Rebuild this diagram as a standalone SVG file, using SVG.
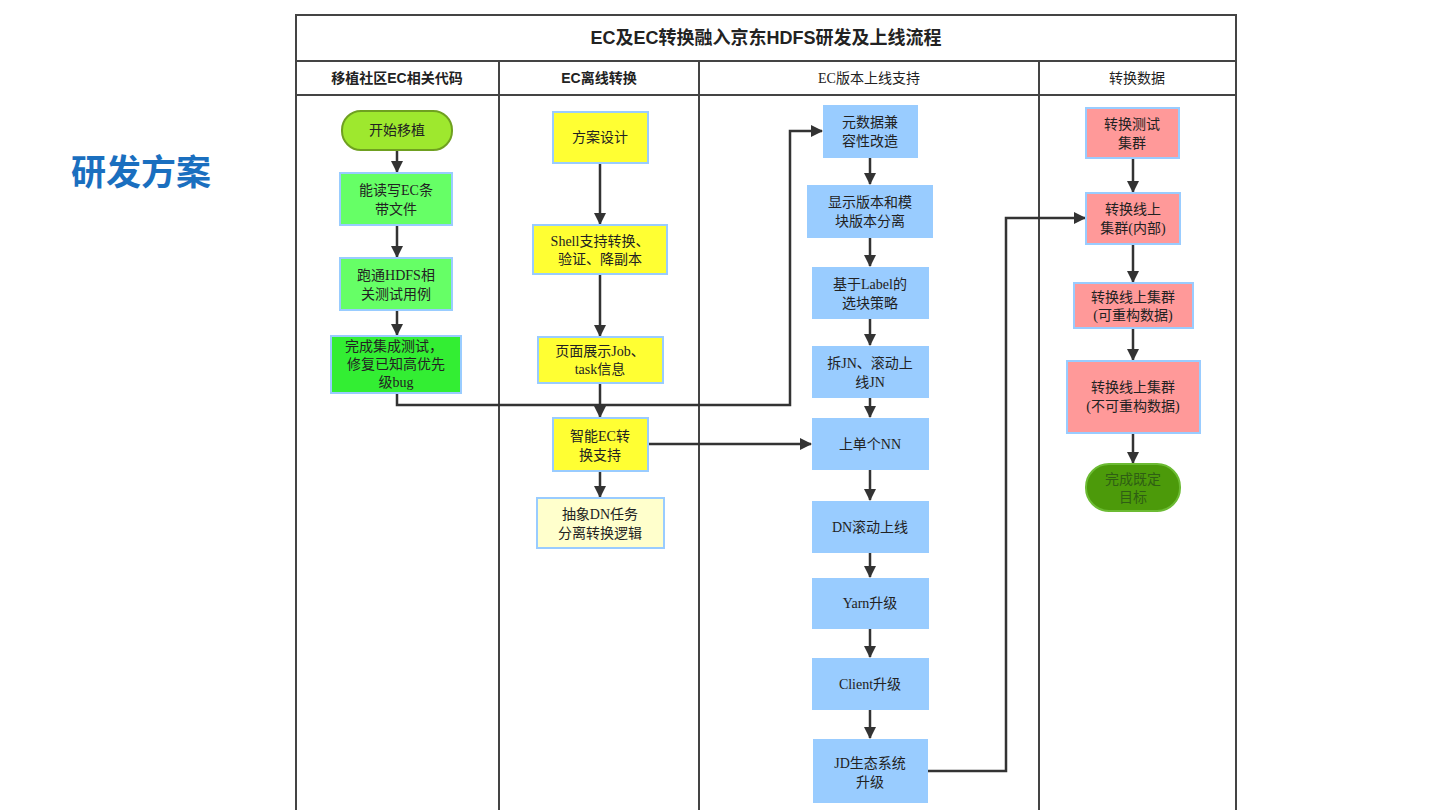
<svg xmlns="http://www.w3.org/2000/svg" width="1440" height="810" viewBox="0 0 1440 810">
<defs>
<marker id="ah" markerWidth="12" markerHeight="12" refX="11" refY="6" orient="auto" markerUnits="userSpaceOnUse">
<path d="M0,0 L12,6 L0,12 Z" fill="#333"/>
</marker>
<style>
.frame{fill:none;stroke:#444;stroke-width:2}
.t{font-family:"Liberation Serif","Noto Sans CJK SC",serif;font-size:14px;fill:#222;text-anchor:middle}
.hb{font-family:"Liberation Sans","Noto Sans CJK SC",sans-serif;font-weight:bold;font-size:14px;fill:#222;text-anchor:middle}
.hs{font-family:"Liberation Serif","Noto Sans CJK SC",serif;font-size:14px;fill:#222;text-anchor:middle}
.c{fill:none;stroke:#333;stroke-width:2.5}
.green{fill:#66ff66;stroke:#99ccff;stroke-width:2}
.yellow{fill:#ffff33;stroke:#99ccff;stroke-width:2}
.blue{fill:#99ccff}
.pink{fill:#ff9999;stroke:#99ccff;stroke-width:2}
</style>
</defs>
<rect width="1440" height="810" fill="#fff"/>
<text x="141" y="185" font-family="Liberation Sans,'Noto Sans CJK SC',sans-serif" font-weight="bold" font-size="35" fill="#1a6fbf" text-anchor="middle">研发方案</text>
<g id="frame">
<rect class="frame" x="296" y="15" width="940" height="800"/>
<line class="frame" x1="296" y1="61" x2="1236" y2="61"/>
<line class="frame" x1="296" y1="95" x2="1236" y2="95"/>
<line class="frame" x1="499" y1="61" x2="499" y2="810"/>
<line class="frame" x1="699" y1="61" x2="699" y2="810"/>
<line class="frame" x1="1039" y1="61" x2="1039" y2="810"/>
<text x="766" y="44" font-family="Liberation Sans,'Noto Sans CJK SC',sans-serif" font-weight="bold" font-size="18" fill="#222" text-anchor="middle">EC及EC转换融入京东HDFS研发及上线流程</text>
<text class="hb" x="397" y="83">移植社区EC相关代码</text>
<text class="hb" x="599" y="83">EC离线转换</text>
<text class="hs" x="869" y="83">EC版本上线支持</text>
<text class="hs" x="1137" y="83">转换数据</text>
</g>
<g id="connectors">
<line class="c" x1="397" y1="150" x2="397" y2="172" marker-end="url(#ah)"/>
<line class="c" x1="397" y1="226" x2="397" y2="257" marker-end="url(#ah)"/>
<line class="c" x1="397" y1="310" x2="397" y2="335" marker-end="url(#ah)"/>
<polyline class="c" points="397,393 397,405 790,405 790,131 822,131" marker-end="url(#ah)"/>
<line class="c" x1="600" y1="163" x2="600" y2="224" marker-end="url(#ah)"/>
<line class="c" x1="600" y1="274" x2="600" y2="336" marker-end="url(#ah)"/>
<line class="c" x1="600" y1="383" x2="600" y2="417" marker-end="url(#ah)"/>
<line class="c" x1="600" y1="471" x2="600" y2="497" marker-end="url(#ah)"/>
<line class="c" x1="648" y1="444" x2="811" y2="444" marker-end="url(#ah)"/>
<line class="c" x1="870" y1="158" x2="870" y2="184" marker-end="url(#ah)"/>
<line class="c" x1="870" y1="238" x2="870" y2="266" marker-end="url(#ah)"/>
<line class="c" x1="870" y1="319" x2="870" y2="345" marker-end="url(#ah)"/>
<line class="c" x1="870" y1="398" x2="870" y2="417" marker-end="url(#ah)"/>
<line class="c" x1="870" y1="470" x2="870" y2="500" marker-end="url(#ah)"/>
<line class="c" x1="870" y1="553" x2="870" y2="577" marker-end="url(#ah)"/>
<line class="c" x1="870" y1="629" x2="870" y2="657" marker-end="url(#ah)"/>
<line class="c" x1="870" y1="710" x2="870" y2="738" marker-end="url(#ah)"/>
<polyline class="c" points="928,771 1006,771 1006,218 1085,218" marker-end="url(#ah)"/>
<line class="c" x1="1133" y1="158" x2="1133" y2="192" marker-end="url(#ah)"/>
<line class="c" x1="1133" y1="245" x2="1133" y2="282" marker-end="url(#ah)"/>
<line class="c" x1="1133" y1="328" x2="1133" y2="360" marker-end="url(#ah)"/>
<line class="c" x1="1133" y1="434" x2="1133" y2="463" marker-end="url(#ah)"/>
</g>
<g id="n-start"><rect x="342" y="111" width="110" height="39" rx="19" fill="#9ee82e" stroke="#6fa020" stroke-width="2"/><text class="t" x="397" y="135">开始移植</text></g>
<g id="n-rw"><rect class="green" x="340" y="173" width="112" height="52"/><text class="t" x="396" y="195">能读写EC条</text><text class="t" x="396" y="214">带文件</text></g>
<g id="n-hdfs"><rect class="green" x="340" y="258" width="112" height="52"/><text class="t" x="396" y="280">跑通HDFS相</text><text class="t" x="396" y="299">关测试用例</text></g>
<g id="n-integ"><rect x="331" y="336" width="130" height="57" fill="#33ee33" stroke="#99ccff" stroke-width="2"/><text class="t" x="394" y="351">完成集成测试，</text><text class="t" x="396" y="369">修复已知高优先</text><text class="t" x="396" y="387">级bug</text></g>
<g id="n-plan"><rect class="yellow" x="553" y="112" width="95" height="51"/><text class="t" x="600" y="142">方案设计</text></g>
<g id="n-shell"><rect class="yellow" x="533" y="225" width="134" height="49"/><text class="t" x="600" y="246">Shell支持转换、</text><text class="t" x="600" y="264">验证、降副本</text></g>
<g id="n-page"><rect class="yellow" x="538" y="337" width="125" height="46"/><text class="t" x="600" y="356">页面展示Job、</text><text class="t" x="600" y="374">task信息</text></g>
<g id="n-smart"><rect class="yellow" x="553" y="418" width="95" height="53"/><text class="t" x="600" y="441">智能EC转</text><text class="t" x="600" y="460">换支持</text></g>
<g id="n-dn"><rect x="537" y="498" width="127" height="50" fill="#ffffcc" stroke="#99ccff" stroke-width="2"/><text class="t" x="600" y="519">抽象DN任务</text><text class="t" x="600" y="538">分离转换逻辑</text></g>
<g id="n-meta"><rect class="blue" x="823" y="105" width="95" height="53"/><text class="t" x="870" y="127">元数据兼</text><text class="t" x="870" y="146">容性改造</text></g>
<g id="n-ver"><rect class="blue" x="807" y="185" width="126" height="53"/><text class="t" x="870" y="207">显示版本和模</text><text class="t" x="870" y="226">块版本分离</text></g>
<g id="n-label"><rect class="blue" x="812" y="267" width="117" height="52"/><text class="t" x="870" y="289">基于Label的</text><text class="t" x="870" y="308">选块策略</text></g>
<g id="n-jn"><rect class="blue" x="812" y="346" width="117" height="52"/><text class="t" x="870" y="368">拆JN、滚动上</text><text class="t" x="870" y="387">线JN</text></g>
<g id="n-nn"><rect class="blue" x="812" y="418" width="117" height="52"/><text class="t" x="870" y="449">上单个NN</text></g>
<g id="n-dnroll"><rect class="blue" x="812" y="501" width="117" height="52"/><text class="t" x="870" y="532">DN滚动上线</text></g>
<g id="n-yarn"><rect class="blue" x="812" y="578" width="117" height="51"/><text class="t" x="870" y="608">Yarn升级</text></g>
<g id="n-client"><rect class="blue" x="812" y="658" width="117" height="52"/><text class="t" x="870" y="689">Client升级</text></g>
<g id="n-jd"><rect class="blue" x="813" y="739" width="115" height="64"/><text class="t" x="870" y="768">JD生态系统</text><text class="t" x="870" y="787">升级</text></g>
<g id="n-test"><rect class="pink" x="1086" y="108" width="93" height="50"/><text class="t" x="1132" y="129">转换测试</text><text class="t" x="1132" y="148">集群</text></g>
<g id="n-inner"><rect class="pink" x="1086" y="193" width="94" height="51"/><text class="t" x="1133" y="214">转换线上</text><text class="t" x="1133" y="233">集群(内部)</text></g>
<g id="n-rebuild"><rect class="pink" x="1074" y="283" width="119" height="45"/><text class="t" x="1133" y="302">转换线上集群</text><text class="t" x="1133" y="320">(可重构数据)</text></g>
<g id="n-norebuild"><rect class="pink" x="1067" y="361" width="133" height="72"/><text class="t" x="1133" y="392">转换线上集群</text><text class="t" x="1133" y="411">(不可重构数据)</text></g>
<g id="n-end"><rect x="1086" y="464" width="94" height="47" rx="23" fill="#4c9a0a" stroke="#6cbb33" stroke-width="2"/><text class="t" x="1133" y="484" style="fill:#2f5e14">完成既定</text><text class="t" x="1133" y="502" style="fill:#2f5e14">目标</text></g>
</svg>
